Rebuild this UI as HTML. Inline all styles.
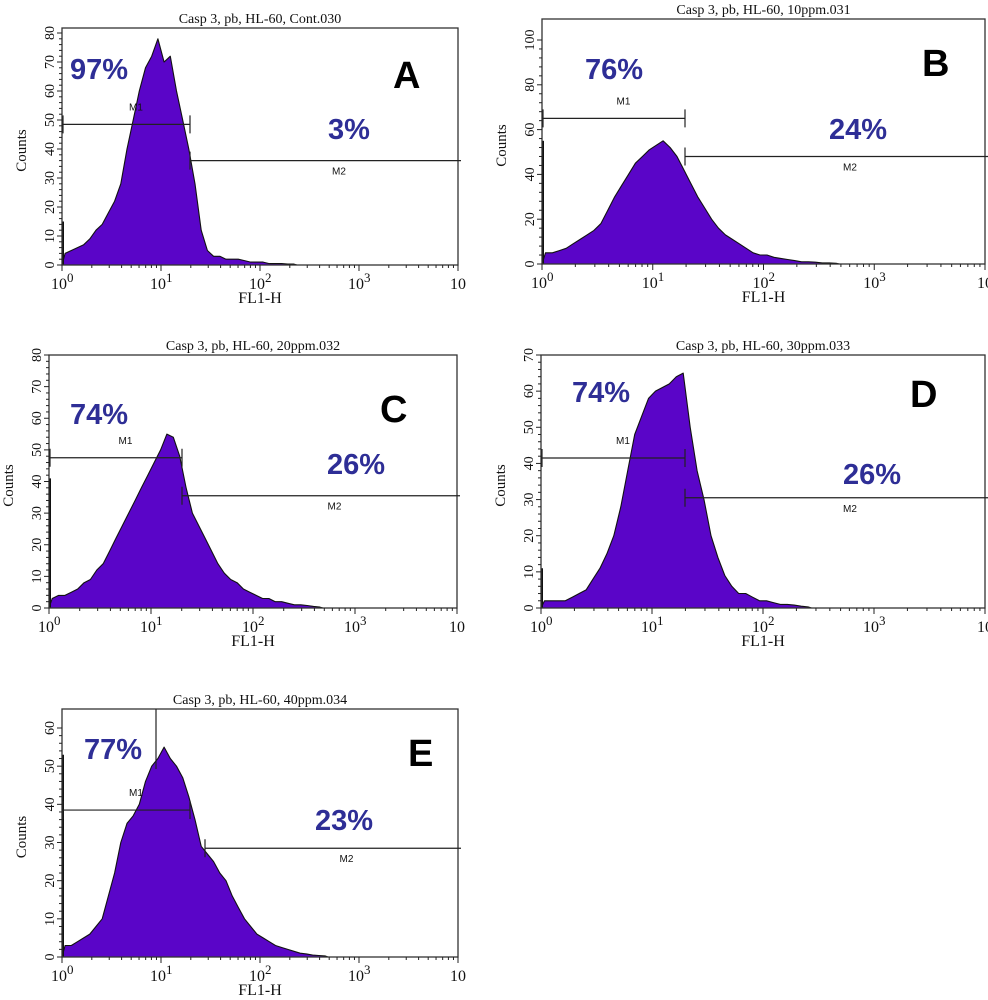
<!DOCTYPE html>
<html><head><meta charset="utf-8">
<style>
body{margin:0;background:#fff;}
svg{display:block;}
.t{font-family:"Liberation Serif",serif;fill:#111;}
.pct{font-family:"Liberation Sans",sans-serif;font-weight:bold;font-size:29px;fill:#2e2e96;}
.let{font-family:"Liberation Sans",sans-serif;font-weight:bold;font-size:38px;fill:#000;}
.m{font-family:"Liberation Sans",sans-serif;font-size:10px;fill:#111;}
</style></head>
<body>
<svg id="fig" width="988" height="1000" viewBox="0 0 988 1000"></svg>
<script>
// histogram counts per log bin (bin width = 1/16 decade, starting at 10^0)
const countsA=[4,5,6,7,9,12,14,18,22,28,40,50,60,68,72,78,70,72,60,50,40,28,12,5,3,3,2,2,2,1.5,1,1,1,0.5,0.5,0.5,0.3,0.3];
const countsB=[5,5,6,7,9,11,13,15,18,24,30,35,40,45,48,51,53,55,52,48,42,36,30,25,20,16,13,11,9,7,5,4,4,3,2.5,2,1.5,1,1,0.8,0.5,0.5,0.3];
const countsC=[3,4,4,5,6,8,9,12,14,18,22,26,30,34,38,42,46,50,55,54,48,38,30,26,22,18,14,11,9,8,6,5,4,3,3,2,2,1.5,1,1,0.8,0.5,0.3];
const countsD=[2,2,2,2,3,4,5,8,11,15,20,28,38,48,53,58,60,61,62,64,65,50,38,30,20,14,9,6,4,4,3,2,2,1.5,1,1,0.8,0.5,0.3];
const countsE=[3,3,4,5,6,8,10,16,22,30,35,37,40,46,50,52,55,52,50,47,42,36,29,27,25,22,20,16,13,10,8,6,5,4,3,2.5,2,1.5,1,0.8,0.5,0.4,0.3];
const edgeSpikes=[15,55,41,11,53];
const titles=["Casp 3, pb, HL-60, Cont.030","Casp 3, pb, HL-60, 10ppm.031","Casp 3, pb, HL-60, 20ppm.032","Casp 3, pb, HL-60, 30ppm.033","Casp 3, pb, HL-60, 40ppm.034"];
const m1Pct=["97%","76%","74%","74%","77%"];
const m2Pct=["3%","24%","26%","26%","23%"];
const panelLetters=["A","B","C","D","E"];
const yMaxTick=[80,100,80,70,60];
const yStep=[10,20,10,10,10];
const m1Level=[48.5,65,47.5,41.5,38.5];
const m2Level=[36,48,35.5,30.5,28.5];
const xDecadeLabels=["0","1","2","3"];

const layout=[
 {L:62,R:458,T:28,B:265,y0:265,yTopVal:80,yTopPx:33,gate:190,pct1:[70,79],pct2:[328,139],let:[393,88]},
 {L:542,R:985,T:19,B:264,y0:264,yTopVal:100,yTopPx:40,gate:685,pct1:[585,79],pct2:[829,139],let:[922,76]},
 {L:49,R:457,T:355,B:608,y0:608,yTopVal:80,yTopPx:355,gate:182,pct1:[70,424],pct2:[327,474],let:[380,422]},
 {L:541,R:985,T:355,B:608,y0:608,yTopVal:70,yTopPx:355,gate:685,pct1:[572,402],pct2:[843,484],let:[910,407]},
 {L:62,R:458,T:709,B:957,y0:957,yTopVal:60,yTopPx:728,gate:190,gate2:205,pct1:[84,759],pct2:[315,830],let:[408,766],extraLine:156}
];
const allCounts=[countsA,countsB,countsC,countsD,countsE];
const svg=document.getElementById('fig');
const NS='http://www.w3.org/2000/svg';
function mk(tag,attrs,parent,text){const e=document.createElementNS(NS,tag);for(const k in attrs)e.setAttribute(k,attrs[k]);if(text!==undefined)e.textContent=text;parent.appendChild(e);return e;}

layout.forEach((p,i)=>{
  const g=mk('g',{},svg);
  
  
  const xs=v=>p.L+v*(p.R-p.L)/4;
  const ys=c=>p.y0-c*(p.y0-p.yTopPx)/p.yTopVal;
  const counts=allCounts[i];
  const tt=mk('text',{x:(p.L+p.R)/2,y:p.T-5,'text-anchor':'middle','font-size':14,class:'t'},g,titles[i]);
  
  
  let d='M'+p.L+','+p.B;
  counts.forEach((c,k)=>{d+=' L'+xs(k/16+1/32).toFixed(1)+','+Math.max(ys(c),p.T).toFixed(1);});
  d+=' L'+xs(counts.length/16).toFixed(1)+','+p.B+' Z';
  const area=mk('path',{d:d,fill:'#5a05c8',stroke:'#111','stroke-width':1.1,'stroke-linejoin':'round'},g);
  
  
  const sp=mk('line',{x1:p.L+1,x2:p.L+1,y1:p.B,y2:ys(edgeSpikes[i]),stroke:'#111','stroke-width':2},g);
  
  
  const fr=mk('rect',{x:p.L,y:p.T,width:p.R-p.L,height:p.B-p.T,fill:'none',stroke:'#333','stroke-width':1.3},g);
  
  
  for(let v=0;v<=yMaxTick[i];v+=yStep[i]/5){
    const major=Math.abs(v/yStep[i]-Math.round(v/yStep[i]))<1e-6;
    mk('line',{x1:p.L-(major?5:3),x2:p.L,y1:ys(v),y2:ys(v),stroke:'#222','stroke-width':1},g);
    if(major){
      const yl=mk('text',{x:0,y:0,transform:'translate('+(p.L-8)+','+ys(v)+') rotate(-90)','text-anchor':'middle','font-size':14,class:'t'},g,String(v));
      
      
    }
  }
  const yt=mk('text',{x:0,y:0,transform:'translate('+(p.L-36)+','+((p.T+p.B)/2+4)+') rotate(-90)','text-anchor':'middle','font-size':15,class:'t'},g,'Counts');
  
  
  for(let dcd=0;dcd<4;dcd++){
    for(let m=1;m<=9;m++){
      const xv=xs(dcd+Math.log10(m));
      mk('line',{x1:xv,x2:xv,y1:p.B,y2:p.B+(m===1?6:3),stroke:'#222','stroke-width':1},g);
    }
  }
  mk('line',{x1:p.R,x2:p.R,y1:p.B,y2:p.B+6,stroke:'#222','stroke-width':1},g);
  xDecadeLabels.forEach((s,k)=>{
    const xl=mk('text',{x:xs(k)-11,y:p.B+24,'font-size':16,class:'t'},g);
    mk('tspan',{},xl,'10');
    mk('tspan',{dy:-7,'font-size':13},xl,s);
    
    
  });
  const xe=mk('text',{x:p.R+8,y:p.B+24,'text-anchor':'end','font-size':16,class:'t'},g,'10');
  
  
  const xt=mk('text',{x:(p.L+p.R)/2,y:p.B+38,'text-anchor':'middle','font-size':16,class:'t'},g,'FL1-H');
  
  
  const y1=ys(m1Level[i]), y2=ys(m2Level[i]);
  const g2=p.gate2||p.gate;
  const gm1=mk('path',{d:'M'+p.L+','+y1+' H'+p.gate+' M'+p.gate+','+(y1-9)+' V'+(y1+9)+' M'+(p.L+1)+','+(y1-9)+' V'+(y1+9),stroke:'#222','stroke-width':1.2,fill:'none'},g);
  
  
  const gm2=mk('path',{d:'M'+g2+','+y2+' H'+(p.R+3)+' M'+g2+','+(y2-9)+' V'+(y2+9),stroke:'#222','stroke-width':1.2,fill:'none'},g);
  
  
  if(p.extraLine){const el=mk('line',{x1:p.extraLine,x2:p.extraLine,y1:p.T,y2:p.T+60,stroke:'#222','stroke-width':1.2},g);
    
    }
  const l1=mk('text',{x:(p.L+p.gate)/2+10,y:y1-14,'text-anchor':'middle',class:'m'},g,'M1');
  
  
  const l2=mk('text',{x:(g2+p.R)/2+15,y:y2+14,'text-anchor':'middle',class:'m'},g,'M2');
  
  
  const t1=mk('text',{x:p.pct1[0],y:p.pct1[1],class:'pct'},g,m1Pct[i]);
  
  
  const t2=mk('text',{x:p.pct2[0],y:p.pct2[1],class:'pct'},g,m2Pct[i]);
  
  
  const lt=mk('text',{x:p.let[0],y:p.let[1],class:'let'},g,panelLetters[i]);
  
  
});
</script>
</body></html>
